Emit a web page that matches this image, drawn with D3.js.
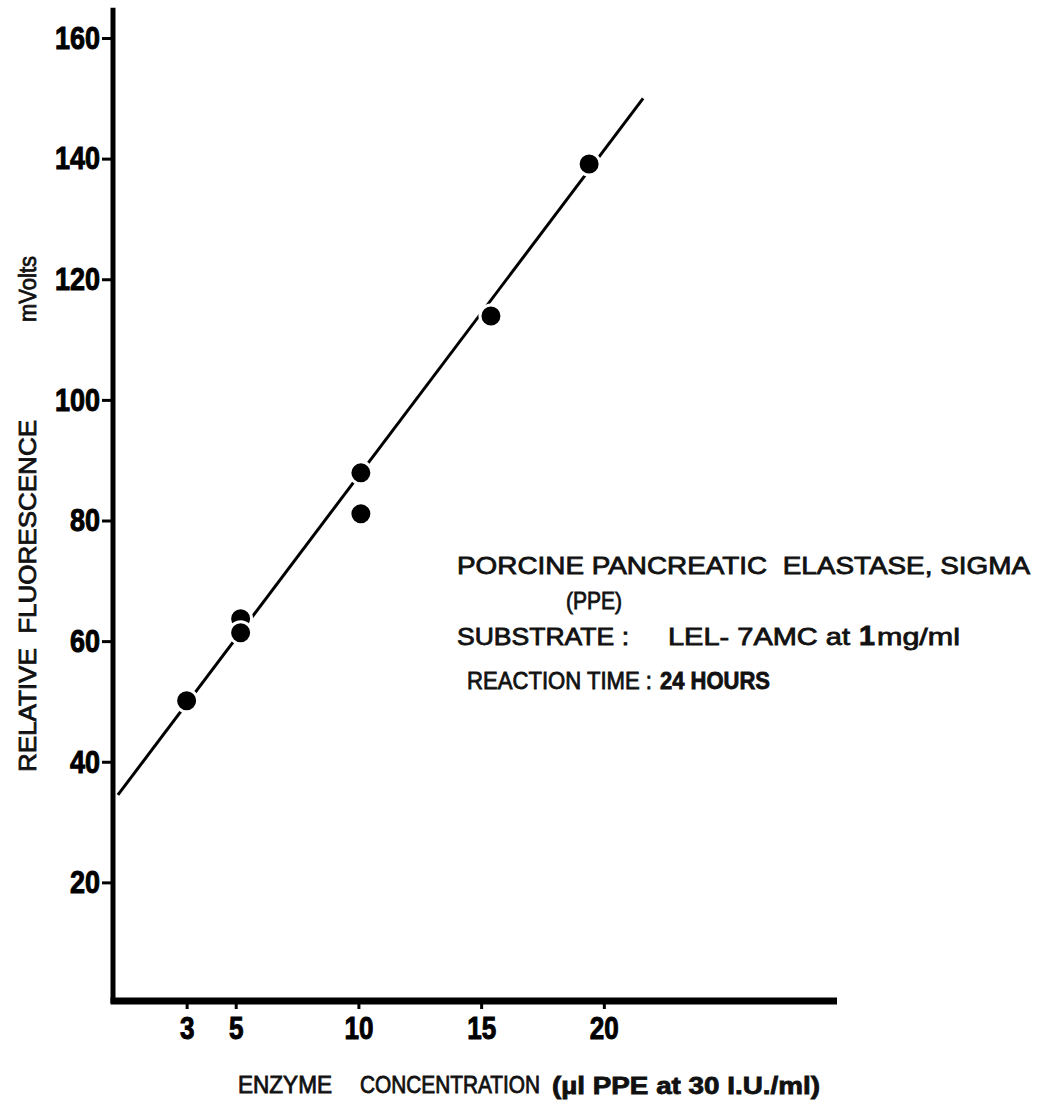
<!DOCTYPE html>
<html>
<head>
<meta charset="utf-8">
<script src="https://cdn.jsdelivr.net/npm/d3@7"></script>
<style>
  body { margin: 0; background: #fff; }
  .tick text { font-family: "Liberation Sans", Arial, sans-serif; font-weight: bold; stroke: #000; stroke-width: 1; }
  .label { font-family: "Liberation Sans", Arial, sans-serif; fill: #111; stroke: #111; stroke-width: 0.8; }
</style>
</head>
<body>
<div id="chart"></div>
<script>
'use strict';

// values
var xTicks = [3, 5, 10, 15, 20];
var yTicks = [20, 40, 60, 80, 100, 120, 140, 160];
var concentration = [3, 5.2, 5.2, 10.1, 10.1, 15.4, 19.4];
var fluorescence = [50.1, 63.7, 61.4, 87.9, 81.1, 113.9, 139.1];
var fitX = [0.2, 21.6];
var fitY = [34.5, 150];

var yLabel = 'RELATIVE  FLUORESCENCE';
var yUnit = 'mVolts';
var noteLines = [
  'PORCINE PANCREATIC  ELASTASE, SIGMA',
  '(PPE)'
];

var width = 1040;
var height = 1110;

var xScale = d3.scaleLinear().domain([0, 29.5]).range([113, 837]);
var yScale = d3.scaleLinear().domain([0, 160]).range([1003, 38]);

var svg = d3.select('#chart')
  .append('svg')
  .attr('width', width)
  .attr('height', height);

svg.append('rect')
  .attr('width', width)
  .attr('height', height)
  .attr('fill', '#fff');

// y axis
var yAxis = d3.axisLeft(yScale)
  .tickValues(yTicks)
  .tickSize(11)
  .tickSizeOuter(0)
  .tickPadding(2);

var yAxisGroup = svg.append('g')
  .attr('class', 'axis axis--y')
  .attr('transform', 'translate(113,0)')
  .call(yAxis);

yAxisGroup.select('.domain')
  .attr('d', 'M0,' + yScale(0) + 'V' + yScale(165))
  .attr('stroke', '#000')
  .attr('stroke-width', 5);
yAxisGroup.selectAll('.tick line').attr('stroke', '#000').attr('stroke-width', 3);
yAxisGroup.selectAll('.tick text')
  .attr('fill', '#000')
  .attr('textLength', function(d) { return String(d).length * 15; })
  .attr('lengthAdjust', 'spacingAndGlyphs')
  .style('font-size', '32px');

// x axis
var xAxis = d3.axisBottom(xScale)
  .tickValues(xTicks)
  .tickSize(8)
  .tickSizeOuter(0);

var xAxisGroup = svg.append('g')
  .attr('class', 'axis axis--x')
  .attr('transform', 'translate(0,1001)')
  .call(xAxis);

xAxisGroup.select('.domain')
  .attr('d', 'M' + (xScale(0) - 2.5) + ',0H' + xScale(29.5))
  .attr('stroke', '#000')
  .attr('stroke-width', 7);
xAxisGroup.selectAll('.tick line').attr('stroke', '#000').attr('stroke-width', 3);
xAxisGroup.selectAll('.tick text')
  .attr('fill', '#000')
  .attr('y', 38)
  .attr('dy', 0)
  .attr('textLength', function(d) { return String(d).length * 14.5; })
  .attr('lengthAdjust', 'spacingAndGlyphs')
  .style('font-size', '32px');

// fitted line
var line = d3.line()
  .x(function(d) { return xScale(d[0]); })
  .y(function(d) { return yScale(d[1]); });

svg.append('path')
  .attr('class', 'fit')
  .attr('d', line(d3.zip(fitX, fitY)))
  .attr('fill', 'none')
  .attr('stroke', '#000')
  .attr('stroke-width', 3);

// data points
svg.selectAll('.dot')
  .data(d3.zip(concentration, fluorescence))
  .enter()
  .append('circle')
  .attr('class', 'dot')
  .attr('cx', function(d) { return xScale(d[0]); })
  .attr('cy', function(d) { return yScale(d[1]); })
  .attr('r', 11)
  .attr('fill', '#000')
  .attr('stroke', '#fff')
  .attr('stroke-width', 3);

// plain text helper, stretched to the width seen on the scan
function addLabel(str, x, y, len, size, bold) {
  return svg.append('text')
    .attr('class', 'label')
    .attr('x', x).attr('y', y)
    .attr('textLength', len)
    .attr('lengthAdjust', 'spacingAndGlyphs')
    .style('font-size', size + 'px')
    .style('font-weight', bold ? 'bold' : 'normal')
    .style('white-space', 'pre')
    .text(str);
}

// y axis title, rotated
svg.append('text')
  .attr('class', 'label')
  .attr('transform', 'translate(36,772) rotate(-90)')
  .attr('textLength', 352)
  .attr('lengthAdjust', 'spacingAndGlyphs')
  .style('font-size', '23px')
  .style('white-space', 'pre')
  .text(yLabel);

svg.append('text')
  .attr('class', 'label')
  .attr('transform', 'translate(36,322) rotate(-90)')
  .attr('textLength', 66)
  .attr('lengthAdjust', 'spacingAndGlyphs')
  .style('font-size', '23px')
  .text(yUnit);

// x axis title
addLabel('ENZYME', 238, 1093, 94, 23, false);
addLabel('CONCENTRATION', 360, 1093, 180, 23, false);
addLabel('(\u00b5l PPE at 30 I.U./ml)', 552, 1094, 268, 24, true);

// annotation block
addLabel(noteLines[0], 457, 574, 573, 24, false);
addLabel(noteLines[1], 566, 609, 56, 24, false);

addLabel('SUBSTRATE :', 457, 645, 172, 24, false);
addLabel('LEL- 7AMC at', 668, 645, 182, 24, false);
addLabel('1', 859, 645, 16, 28, true);
addLabel('mg/ml', 877, 645, 83, 24, false);

addLabel('REACTION TIME :', 467, 689, 185, 24, false);
addLabel('24 HOURS', 660, 689, 110, 24, true);
</script>
</body>
</html>
